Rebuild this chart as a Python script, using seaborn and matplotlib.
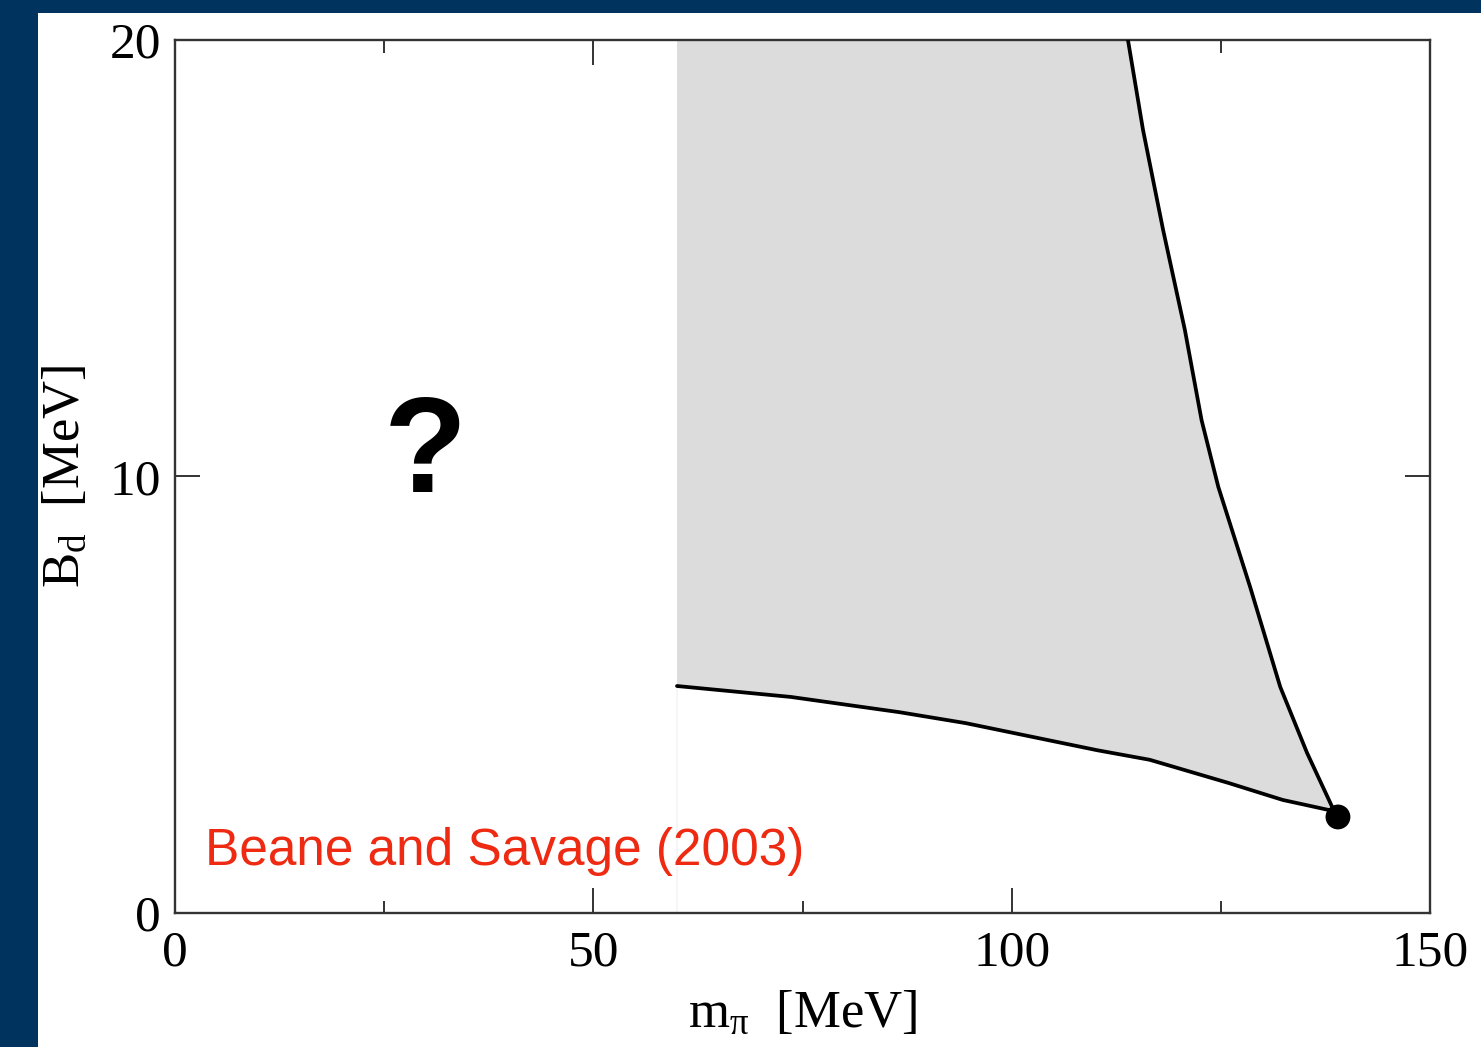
import numpy as np
import pandas as pd
import matplotlib
matplotlib.use("Agg")
import matplotlib.pyplot as plt
from matplotlib.patches import Rectangle
import seaborn as sns

# ---- data ----
lower_x = [60.0, 73.6, 86.6, 94.5, 110.2, 116.5, 125.9, 132.4, 137.9, 139.0]
lower_y = [5.20, 4.95, 4.60, 4.35, 3.73, 3.51, 2.98, 2.59, 2.36, 2.20]
right_x = [113.9, 115.7, 118.1, 120.7, 122.7, 124.7, 128.5, 132.1, 135.3, 138.6, 139.0]
right_y = [20.0, 17.94, 15.65, 13.36, 11.29, 9.76, 7.47, 5.18, 3.67, 2.31, 2.20]
phys_x = [139.0]
phys_y = [2.2]
region_left = 60.0
y_top = 20.0
x_ticks = [0, 50, 100, 150]
x_minor = [25, 75, 125]
y_ticks = [0, 10, 20]
annot_text = "Beane and Savage (2003)"

sns.set_style("ticks")
plt.rcParams["font.family"] = ["Liberation Serif", "DejaVu Serif"]
plt.rcParams["mathtext.fontset"] = "custom"
plt.rcParams["mathtext.rm"] = "Liberation Serif"
plt.rcParams["mathtext.it"] = "Liberation Serif"
plt.rcParams["mathtext.bf"] = "Liberation Serif:bold"
plt.rcParams["mathtext.default"] = "rm"
plt.rcParams["axes.labelcolor"] = "black"

fig = plt.figure(figsize=(14.81, 10.47), dpi=100, facecolor="white")
navy = "#00345f"
fig.patches.append(Rectangle((0, 0), 38 / 1481, 1, transform=fig.transFigure,
                             facecolor=navy, edgecolor="none", zorder=0))
fig.patches.append(Rectangle((0, 1 - 13 / 1047), 1, 13 / 1047, transform=fig.transFigure,
                             facecolor=navy, edgecolor="none", zorder=0))

ax = fig.add_axes([175 / 1481, 1 - 913 / 1047, (1430 - 175) / 1481, (913 - 40) / 1047])
ax.set_facecolor("white")

# shaded region polygon built from the curves
poly_x = list(lower_x) + list(right_x[::-1]) + [region_left]
poly_y = list(lower_y) + list(right_y[::-1]) + [y_top]
ax.fill(poly_x, poly_y, color="#dcdcdc", lw=0, zorder=1)
ax.plot([region_left, region_left], [0, lower_y[0]], color="#f5f5f5", lw=1.2, zorder=1)

df_low = pd.DataFrame({"x": lower_x, "y": lower_y})
df_right = pd.DataFrame({"x": right_x, "y": right_y})
sns.lineplot(data=df_low, x="x", y="y", sort=False, estimator=None, color="black",
             linewidth=2.7, ax=ax, zorder=3)
sns.lineplot(data=df_right, x="x", y="y", sort=False, estimator=None, color="black",
             linewidth=2.7, ax=ax, zorder=3)
sns.scatterplot(x=phys_x, y=phys_y, color="black", s=320, edgecolor="none", ax=ax, zorder=4)

ax.set_xlim(0, 150)
ax.set_ylim(0, 20)
ax.set_xticks(x_ticks)
ax.set_xticks(x_minor, minor=True)
ax.set_yticks(y_ticks)
ax.set_xticklabels([str(v) for v in x_ticks])
ax.set_yticklabels([str(v) for v in y_ticks])

spine_c = "#333333"
for s in ax.spines.values():
    s.set_visible(True)
    s.set_color(spine_c)
    s.set_linewidth(1.7)
ax.tick_params(which="major", direction="in", length=18, width=1.4, color=spine_c,
               top=True, right=True, labelsize=37, pad=10, labelcolor="black")
ax.tick_params(which="minor", direction="in", length=9, width=1.4, color=spine_c,
               top=True, right=True)
ax.tick_params(axis="x", which="major", pad=12)

ax.set_xlabel(r"m$_{\pi}$  [MeV]", fontsize=38, labelpad=10, color="black")
ax.set_ylabel(r"B$_{\rm d}$  [MeV]", fontsize=38, labelpad=14, color="black")

ax.text(29.9, 10.45, "?", fontsize=98, fontweight="bold", family=["Liberation Sans", "DejaVu Sans"],
        ha="center", va="center", color="black", zorder=5)
ax.text(3.6, 1.1, annot_text, fontsize=37, family=["Liberation Sans", "DejaVu Sans"],
        ha="left", va="baseline", color="#ee2a12", zorder=5)

fig.savefig("out.png", dpi=100, facecolor="white")
